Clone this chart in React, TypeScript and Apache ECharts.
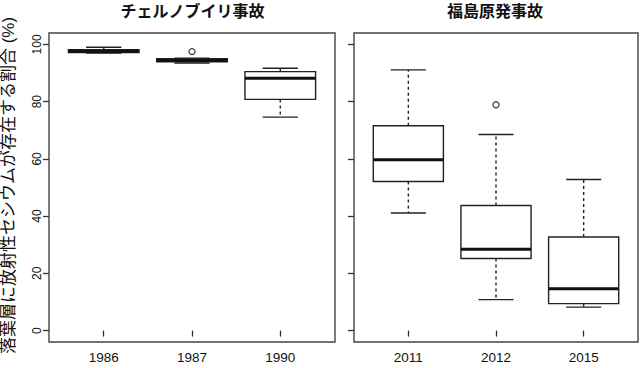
import React, { useEffect, useRef } from "react";
import * as echarts from "echarts";

const leftCategories = ["1986", "1987", "1990"];
const rightCategories = ["2011", "2012", "2015"];
// [min, q1, median, q3, max]
const leftBoxes = [
  [97.0, 97.2, 97.6, 98.2, 99.0],
  [93.5, 93.9, 94.4, 95.0, 95.2],
  [74.6, 80.8, 88.2, 90.5, 91.7],
];
const rightBoxes = [
  [41.1, 52.1, 59.7, 71.6, 91.1],
  [10.8, 25.2, 28.4, 43.7, 68.5],
  [8.2, 9.4, 14.6, 32.7, 52.8],
];
const leftOutliers = [[2, 97.5]];
const rightOutliers = [[2, 78.9]];
const yTicks = [0, 20, 40, 60, 80, 100];
const xPositions = [1, 2, 3];
const leftTitle = "チェルノブイリ事故";
const rightTitle = "福島原発事故";
const yTitle = "落葉層に放射性セシウムが存在する割合 (%)";

const FONT = "'Liberation Sans', Arial, 'Noto Sans CJK JP', sans-serif";
const LINE = "#222";

function boxData(boxes: number[][]) {
  return boxes.map((b, i) => [i + 1, ...b]);
}

function renderBox(params: any, api: any) {
  const x = api.value(0);
  const mn = api.value(1);
  const q1 = api.value(2);
  const md = api.value(3);
  const q3 = api.value(4);
  const mx = api.value(5);
  const unit = api.size([1, 0])[0];
  const halfBox = unit * 0.4;
  const halfCap = unit * 0.2;
  const pMin = api.coord([x, mn]);
  const pQ1 = api.coord([x, q1]);
  const pMd = api.coord([x, md]);
  const pQ3 = api.coord([x, q3]);
  const pMax = api.coord([x, mx]);
  const cx = pMd[0];
  const thin = { stroke: LINE, lineWidth: 1.4, fill: "none" };
  const dashed = { stroke: LINE, lineWidth: 1.4, lineDash: [3, 3] };
  return {
    type: "group",
    children: [
      { type: "line", shape: { x1: cx, y1: pQ3[1], x2: cx, y2: pMax[1] }, style: dashed },
      { type: "line", shape: { x1: cx, y1: pQ1[1], x2: cx, y2: pMin[1] }, style: dashed },
      { type: "line", shape: { x1: cx - halfCap, y1: pMax[1], x2: cx + halfCap, y2: pMax[1] }, style: thin },
      { type: "line", shape: { x1: cx - halfCap, y1: pMin[1], x2: cx + halfCap, y2: pMin[1] }, style: thin },
      {
        type: "rect",
        shape: { x: cx - halfBox, y: pQ3[1], width: halfBox * 2, height: pQ1[1] - pQ3[1] },
        style: { stroke: LINE, lineWidth: 1.4, fill: "#fff" },
      },
      { type: "line", shape: { x1: cx - halfBox, y1: pMd[1], x2: cx + halfBox, y2: pMd[1] }, style: { stroke: "#111", lineWidth: 3 } },
    ],
  };
}

export default function App() {
  const ref = useRef<HTMLDivElement>(null);
  useEffect(() => {
    if (!ref.current) return;
    const chart = echarts.init(ref.current, null, { renderer: "svg" });
    const xAxisBase = (cats: string[], idx: number) => ({
      type: "value",
      gridIndex: idx,
      min: 0.38,
      max: 3.62,
      axisLine: { show: false },
      splitLine: { show: false },
      axisTick: { show: true, inside: false, length: 6, lineStyle: { color: "#333", width: 1.3 }, customValues: xPositions },
      axisLabel: {
        show: true,
        margin: 9,
        fontSize: 13.5,
        color: "#111",
        fontFamily: FONT,
        customValues: xPositions,
        formatter: (v: number) => cats[Math.round(v) - 1] ?? "",
      },
    });
    const yAxisBase = (idx: number, showLabels: boolean) => ({
      type: "value",
      gridIndex: idx,
      min: -4,
      max: 104,
      axisLine: { show: false },
      splitLine: { show: false },
      axisTick: { show: true, inside: false, length: 6, lineStyle: { color: "#333", width: 1.3 }, customValues: yTicks },
      axisLabel: {
        show: showLabels,
        rotate: 90,
        margin: 6,
        fontSize: 12,
        color: "#111",
        fontFamily: FONT,
        customValues: yTicks,
      },
    });
    chart.setOption({
      animation: false,
      backgroundColor: "#fff",
      grid: [
        { left: 49, top: 33, width: 286, height: 309, show: true, borderColor: "#444", borderWidth: 1.4, backgroundColor: "transparent" },
        { left: 354, top: 33, width: 284, height: 309, show: true, borderColor: "#444", borderWidth: 1.4, backgroundColor: "transparent" },
      ],
      xAxis: [xAxisBase(leftCategories, 0), xAxisBase(rightCategories, 1)],
      yAxis: [yAxisBase(0, true), yAxisBase(1, false)],
      series: [
        { type: "custom", xAxisIndex: 0, yAxisIndex: 0, renderItem: renderBox, data: boxData(leftBoxes), encode: { x: 0, y: [1, 2, 3, 4, 5] } },
        { type: "custom", xAxisIndex: 1, yAxisIndex: 1, renderItem: renderBox, data: boxData(rightBoxes), encode: { x: 0, y: [1, 2, 3, 4, 5] } },
        { type: "scatter", xAxisIndex: 0, yAxisIndex: 0, data: leftOutliers, symbol: "circle", symbolSize: 6, itemStyle: { color: "#fff", borderColor: LINE, borderWidth: 1.4 } },
        { type: "scatter", xAxisIndex: 1, yAxisIndex: 1, data: rightOutliers, symbol: "circle", symbolSize: 6, itemStyle: { color: "#fff", borderColor: LINE, borderWidth: 1.4 } },
      ],
      graphic: [
        { type: "text", x: 192.5, y: 11, style: { text: leftTitle, align: "center", verticalAlign: "middle", fontSize: 16, fontWeight: "bold", fontFamily: FONT, fill: "#111" } },
        { type: "text", x: 495, y: 11, style: { text: rightTitle, align: "center", verticalAlign: "middle", fontSize: 16, fontWeight: "bold", fontFamily: FONT, fill: "#111" } },
        { type: "text", x: 8.5, y: 185.5, rotation: Math.PI / 2, style: { text: yTitle, align: "center", verticalAlign: "middle", fontSize: 17, fontFamily: FONT, fill: "#111" } },
      ],
    });
    return () => chart.dispose();
  }, []);
  return <div ref={ref} style={{ position: "fixed", left: 0, top: 0, width: 640, height: 368 }} />;
}
